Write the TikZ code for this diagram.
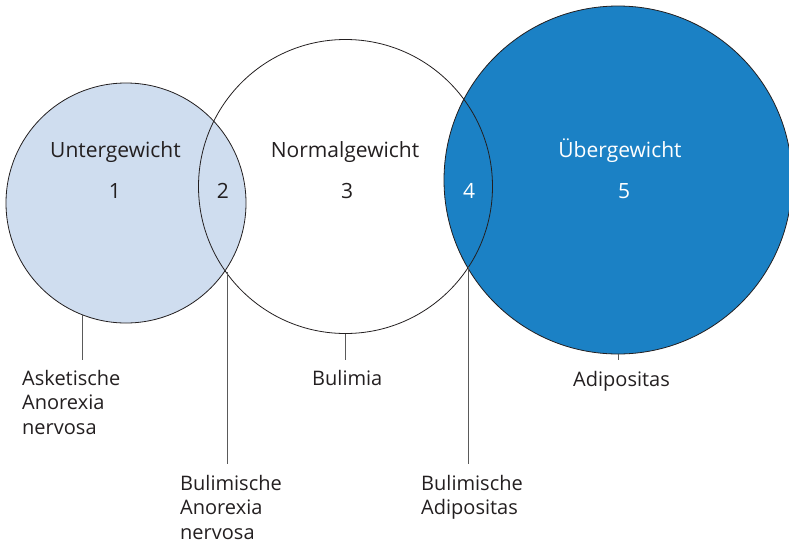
\documentclass[tikz,border=0pt]{standalone}
\usepackage{fontspec}
\setmainfont{Open Sans}
\definecolor{lightblue}{HTML}{CFDDEF}
\definecolor{midblue}{HTML}{1B81C5}
\definecolor{ink}{HTML}{231F20}
\definecolor{leader}{HTML}{5A5A5A}
\begin{document}
\begin{tikzpicture}[x=1pt,y=-1pt,
  zone/.style={circle,inner sep=0pt,draw=ink,line width=0.8pt},
  inlabel/.style={font=\fontsize{21}{25}\selectfont,anchor=base,inner sep=0pt},
  outlabel/.style={font=\fontsize{20}{24.5}\selectfont,anchor=north west,align=left,inner sep=0pt,text=ink},
  leaderline/.style={draw=leader,line width=0.8pt}]
\useasboundingbox (0,0) rectangle (789,544);
% circles
\node[zone,fill=lightblue,minimum size=240pt] (L) at (126,203) {};
\node[zone,fill=midblue,minimum size=348pt] (R) at (618,180) {};
\node[zone,minimum size=294pt] (M) at (345.5,186.5) {};
% inner texts
\node[inlabel,text=ink] (tU) at (115.5,157) {Untergewicht};
\node[inlabel,text=ink] (n1) at (115,198) {1};
\node[inlabel,text=ink] (n2) at (223,198) {2};
\node[inlabel,text=ink] (tN) at (345,157) {Normalgewicht};
\node[inlabel,text=ink] (n3) at (347,198) {3};
\node[inlabel,text=white] (n4) at (469,198) {4};
\node[inlabel,text=white] (tO) at (620,157) {Übergewicht};
\node[inlabel,text=white] (n5) at (624,198) {5};
% outer labels
\node[outlabel] (aAN) at (22,370) {Asketische\\Anorexia\\nervosa};
\node[outlabel] (bAN) at (180,475) {Bulimische\\Anorexia\\nervosa};
\node[outlabel] (bul) at (312,370) {Bulimia};
\node[outlabel] (adi) at (573,371) {Adipositas};
\node[outlabel] (bAd) at (421,475) {Bulimische\\Adipositas};
% leader coordinates
\coordinate (eL) at (L.249 |- 0,360);
\coordinate (eM) at (M.south |- 0,360);
\coordinate (eR) at (R.south |- 0,360);
\coordinate (LM) at (227,272);
\coordinate (eLM) at (227,464);
\coordinate (MR) at (468,267);
\coordinate (eMR) at (468,464);
\draw[leaderline] (L.249) -- (eL);
\draw[leaderline] (M.south) -- (eM);
\draw[leaderline] (R.south) -- (eR);
\draw[leaderline] (LM) -- (eLM);
\draw[leaderline] (MR) -- (eMR);
\end{tikzpicture}
\end{document}
